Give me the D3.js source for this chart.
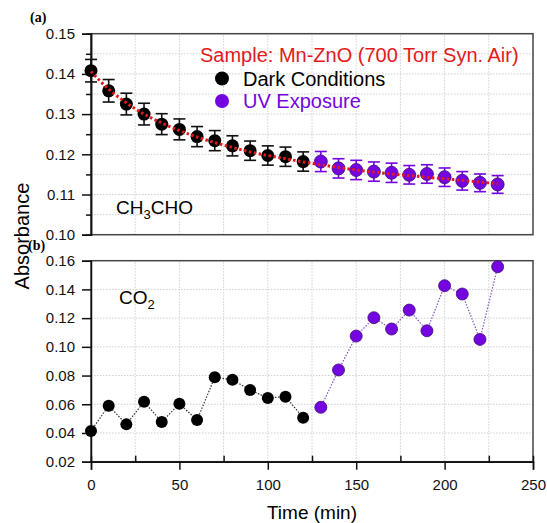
<!DOCTYPE html>
<html>
<head>
<meta charset="utf-8">
<script src="https://cdn.jsdelivr.net/npm/d3@7"></script>
<style>
  body { margin: 0; background: #fff; }
  text { font-family: "Liberation Sans", Arial, sans-serif; }
</style>
</head>
<body>
<div id="chart"></div>
<script>
// time points (min)
var darkTimes = [0, 10, 20, 30, 40, 50, 60, 70, 80, 90, 100, 110, 120]
var uvTimes = [130, 140, 150, 160, 170, 180, 190, 200, 210, 220, 230]

// (a) CH3CHO absorbance with error bars
var ch3choDark = [0.1408, 0.1358, 0.1325, 0.1300, 0.1275, 0.1262, 0.1244, 0.1234, 0.1221, 0.1209, 0.1197, 0.1194, 0.1182]
var ch3choUV = [0.1182, 0.1165, 0.1161, 0.1157, 0.1154, 0.1149, 0.1151, 0.1143, 0.1134, 0.1129, 0.1125]
var ch3choErrDark = [0.0028, 0.0028, 0.0027, 0.0027, 0.0026, 0.0026, 0.0025, 0.0025, 0.0025, 0.0024, 0.0024, 0.0024, 0.0024]
var ch3choErrUV = [0.0025, 0.0024, 0.0024, 0.0024, 0.0024, 0.0023, 0.0023, 0.0023, 0.0023, 0.0022, 0.0022]

// red dotted fit curve
var fitTimes = [0, 10, 20, 30, 40, 50, 60, 70, 80, 90, 100, 110, 120, 130, 140, 150, 160, 170, 180, 190, 200, 210, 220, 230]
var fitValues = [0.1406, 0.1362, 0.1328, 0.1300, 0.1278, 0.1259, 0.1243, 0.1229, 0.1217, 0.1206, 0.1197, 0.1189, 0.1181, 0.1174, 0.1167, 0.1161, 0.1156, 0.1151, 0.1147, 0.1143, 0.1139, 0.1135, 0.1131, 0.1127]

// (b) CO2 absorbance
var co2Dark = [0.0414, 0.0590, 0.0460, 0.0618, 0.0476, 0.0604, 0.0490, 0.0788, 0.0771, 0.0699, 0.0644, 0.0653, 0.0506]
var co2UV = [0.0579, 0.0839, 0.1075, 0.1203, 0.1124, 0.1256, 0.1112, 0.1426, 0.1368, 0.1052, 0.1558]

// ticks
var xTicks = [0, 50, 100, 150, 200, 250]
var xMinorTicks = [25, 75, 125, 175, 225]
var topTicks = [0.10, 0.11, 0.12, 0.13, 0.14, 0.15]
var topMinorTicks = [0.105, 0.115, 0.125, 0.135, 0.145]
var bottomTicks = [0.02, 0.04, 0.06, 0.08, 0.10, 0.12, 0.14, 0.16]

var legendLabels = ['Dark Conditions', 'UV Exposure']

var purple = '#7405e0'
var purpleLine = '#8a52cc'
var red = '#e3191c'

var width = 547, height = 523
var left = 91, right = 533

var svg = d3.select('#chart')
  .append('svg')
  .attr('width', width)
  .attr('height', height)

var x = d3.scaleLinear().domain([0, 250]).range([left, right])
var yTop = d3.scaleLinear().domain([0.10, 0.15]).range([234.7, 33.7])
var yBot = d3.scaleLinear().domain([0.02, 0.16]).range([461.7, 260.7])

function zipPts(ts, vs, es) {
  return ts.map((t, i) => ({ t: t, v: vs[i], e: es ? es[i] : 0 }))
}

function grid(g, y, yGrid) {
  g.selectAll('.vg').data(xMinorTicks.concat(xTicks.slice(1, -1)))
    .enter().append('line')
    .attr('x1', d => x(d)).attr('x2', d => x(d))
    .attr('y1', y.range()[0]).attr('y2', y.range()[1])
    .attr('stroke', '#cfcfcf').attr('stroke-width', 1).attr('stroke-dasharray', '1.5,1.5')
  g.selectAll('.hg').data(yGrid)
    .enter().append('line')
    .attr('x1', left).attr('x2', right)
    .attr('y1', d => y(d)).attr('y2', d => y(d))
    .attr('stroke', '#cfcfcf').attr('stroke-width', 1).attr('stroke-dasharray', '1.5,1.5')
}

function frame(g, y) {
  g.append('rect')
    .attr('x', left).attr('y', y.range()[1])
    .attr('width', right - left).attr('height', y.range()[0] - y.range()[1])
    .attr('fill', 'none').attr('stroke', '#444').attr('stroke-width', 1.5)
}

/** top panel */
var gTop = svg.append('g')
grid(gTop, yTop, topTicks.concat(topMinorTicks).filter(d => d > 0.10 && d < 0.15))
frame(gTop, yTop)

gTop.append('g')
  .attr('transform', 'translate(' + left + ',0)')
  .call(d3.axisLeft(yTop).tickValues(topTicks).tickFormat(d3.format('.2f')).tickSize(9).tickPadding(7))
gTop.append('g')
  .attr('transform', 'translate(' + left + ',0)')
  .call(d3.axisLeft(yTop).tickValues(topMinorTicks).tickFormat('').tickSize(5))

var topDark = zipPts(darkTimes, ch3choDark, ch3choErrDark)
var topUV = zipPts(uvTimes, ch3choUV, ch3choErrUV)

function errBars(g, pts, color) {
  var eb = g.selectAll(null).data(pts).enter().append('g')
    .attr('stroke', color).attr('stroke-width', 1.6)
  eb.append('line')
    .attr('x1', d => x(d.t)).attr('x2', d => x(d.t))
    .attr('y1', d => yTop(d.v - d.e)).attr('y2', d => yTop(d.v + d.e))
  eb.append('line')
    .attr('x1', d => x(d.t) - 6).attr('x2', d => x(d.t) + 6)
    .attr('y1', d => yTop(d.v - d.e)).attr('y2', d => yTop(d.v - d.e))
  eb.append('line')
    .attr('x1', d => x(d.t) - 6).attr('x2', d => x(d.t) + 6)
    .attr('y1', d => yTop(d.v + d.e)).attr('y2', d => yTop(d.v + d.e))
}
errBars(gTop, topDark, '#111')
errBars(gTop, topUV, purple)

gTop.selectAll('.dk').data(topDark).enter().append('circle')
  .attr('cx', d => x(d.t)).attr('cy', d => yTop(d.v)).attr('r', 6.5)
  .attr('fill', '#000')
gTop.selectAll('.uv').data(topUV).enter().append('circle')
  .attr('cx', d => x(d.t)).attr('cy', d => yTop(d.v)).attr('r', 6.5)
  .attr('fill', purple).attr('stroke', '#3b0a78').attr('stroke-width', 0.8)

// fit line on top of the markers
gTop.append('path')
  .datum(fitTimes.map((t, i) => [t, fitValues[i]]))
  .attr('d', d3.line().x(d => x(d[0])).y(d => yTop(d[1])).curve(d3.curveMonotoneX))
  .attr('fill', 'none').attr('stroke', red).attr('stroke-width', 3)
  .attr('stroke-dasharray', '2.5,2.5')

/** legend */
svg.append('text')
  .attr('x', 200).attr('y', 62)
  .attr('fill', red).attr('font-size', 20)
  .text('Sample: Mn-ZnO (700 Torr Syn. Air)')

var legend = svg.selectAll('.legend').data(legendLabels).enter().append('g')
  .attr('transform', (d, i) => 'translate(222,' + (78.5 + i * 22.5) + ')')
legend.append('circle').attr('r', 7)
  .attr('fill', (d, i) => i ? purple : '#000')
legend.append('text')
  .attr('x', 21).attr('y', 7)
  .attr('font-size', 20)
  .attr('fill', (d, i) => i ? purple : '#000')
  .text(d => d)

var lab1 = svg.append('text').attr('x', 116).attr('y', 214).attr('font-size', 19)
lab1.append('tspan').text('CH')
lab1.append('tspan').attr('font-size', 13).attr('dy', 5).text('3')
lab1.append('tspan').attr('dy', -5).text('CHO')

/** bottom panel */
var gBot = svg.append('g')
grid(gBot, yBot, bottomTicks.slice(1, -1))
frame(gBot, yBot)

gBot.append('g')
  .attr('transform', 'translate(' + left + ',0)')
  .call(d3.axisLeft(yBot).tickValues(bottomTicks).tickFormat(d3.format('.2f')).tickSize(9).tickPadding(7))
gBot.append('g')
  .attr('transform', 'translate(0,' + yBot.range()[0] + ')')
  .call(d3.axisBottom(x).tickValues(xTicks).tickSize(8).tickPadding(10))
gBot.append('g')
  .attr('transform', 'translate(0,' + yBot.range()[0] + ')')
  .call(d3.axisTop(x).tickValues(xMinorTicks).tickFormat('').tickSize(6))

var botDark = zipPts(darkTimes, co2Dark)
var botUV = zipPts(uvTimes, co2UV)
var botLine = d3.line().x(d => x(d.t)).y(d => yBot(d.v))

gBot.append('path').datum(botDark).attr('d', botLine)
  .attr('fill', 'none').attr('stroke', '#333').attr('stroke-width', 1.2).attr('stroke-dasharray', '1.5,1.5')
gBot.append('path').datum(botUV).attr('d', botLine)
  .attr('fill', 'none').attr('stroke', purpleLine).attr('stroke-width', 1.2).attr('stroke-dasharray', '1.5,1.5')

gBot.selectAll('.dk').data(botDark).enter().append('circle')
  .attr('cx', d => x(d.t)).attr('cy', d => yBot(d.v)).attr('r', 6)
  .attr('fill', '#000')
gBot.selectAll('.uv').data(botUV).enter().append('circle')
  .attr('cx', d => x(d.t)).attr('cy', d => yBot(d.v)).attr('r', 6)
  .attr('fill', purple).attr('stroke', '#3b0a78').attr('stroke-width', 0.8)

var lab2 = svg.append('text').attr('x', 119).attr('y', 304).attr('font-size', 19)
lab2.append('tspan').text('CO')
lab2.append('tspan').attr('font-size', 13).attr('dy', 5).text('2')

/** axis styling */
svg.selectAll('.tick text').attr('font-size', 15).attr('fill', '#111')
  .style('font-family', '"Liberation Sans", Arial, sans-serif')
svg.selectAll('.domain').attr('stroke', '#111').attr('stroke-width', 1.5)
svg.selectAll('.tick line').attr('stroke', '#111').attr('stroke-width', 1.5)

/** titles */
svg.append('text')
  .attr('transform', 'translate(29,236) rotate(-90)')
  .attr('text-anchor', 'middle').attr('font-size', 20)
  .text('Absorbance')
svg.append('text')
  .attr('x', 312).attr('y', 519)
  .attr('text-anchor', 'middle').attr('font-size', 19)
  .text('Time (min)')
svg.append('text')
  .attr('x', 30).attr('y', 22)
  .attr('font-size', 14).attr('font-weight', 'bold')
  .style('font-family', '"Liberation Serif", "Times New Roman", serif')
  .text('(a)')
svg.append('text')
  .attr('x', 28).attr('y', 250)
  .attr('font-size', 14).attr('font-weight', 'bold')
  .style('font-family', '"Liberation Serif", "Times New Roman", serif')
  .text('(b)')
</script>
</body>
</html>
